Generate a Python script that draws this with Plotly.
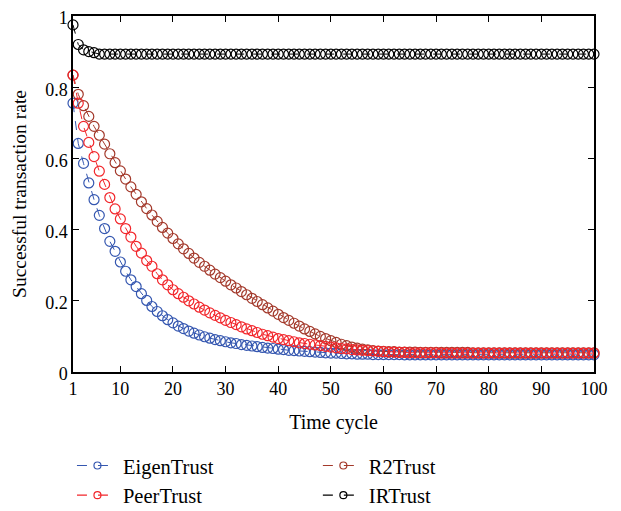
import plotly.graph_objects as go

cycles = list(range(1, 101))

eigen = [0.755, 0.642, 0.586, 0.531, 0.484, 0.440, 0.403, 0.367, 0.339, 0.309,
         0.283, 0.259, 0.240, 0.220, 0.201, 0.184, 0.170, 0.158, 0.147, 0.138,
         0.129, 0.122, 0.115, 0.109, 0.104, 0.099, 0.095, 0.091, 0.088, 0.085,
         0.082, 0.080, 0.077, 0.075, 0.073, 0.071, 0.069, 0.067, 0.066, 0.064,
         0.063, 0.061, 0.060, 0.059, 0.058, 0.057, 0.056, 0.055, 0.054, 0.053,
         0.053, 0.052, 0.051, 0.051, 0.050, 0.050, 0.050, 0.049, 0.049, 0.049,
         0.049, 0.049, 0.049, 0.048, 0.048, 0.048, 0.048, 0.048, 0.048, 0.048,
         0.048, 0.048, 0.048, 0.048, 0.048, 0.048, 0.048, 0.048, 0.048, 0.048,
         0.048, 0.048, 0.048, 0.048, 0.048, 0.048, 0.048, 0.048, 0.048, 0.048,
         0.048, 0.048, 0.048, 0.048, 0.048, 0.048, 0.048, 0.048, 0.048, 0.048]

peer = [0.834, 0.755, 0.690, 0.645, 0.605, 0.564, 0.527, 0.490, 0.458, 0.430,
        0.403, 0.379, 0.353, 0.334, 0.313, 0.297, 0.276, 0.259, 0.245, 0.231,
        0.220, 0.210, 0.200, 0.191, 0.182, 0.174, 0.166, 0.159, 0.152, 0.145,
        0.139, 0.133, 0.127, 0.121, 0.116, 0.111, 0.106, 0.102, 0.098, 0.094,
        0.091, 0.088, 0.085, 0.082, 0.080, 0.078, 0.076, 0.074, 0.072, 0.070,
        0.068, 0.066, 0.065, 0.063, 0.062, 0.061, 0.060, 0.059, 0.058, 0.057,
        0.056, 0.056, 0.055, 0.055, 0.054, 0.054, 0.054, 0.054, 0.054, 0.054,
        0.053, 0.053, 0.053, 0.053, 0.053, 0.053, 0.053, 0.053, 0.053, 0.053,
        0.053, 0.053, 0.053, 0.053, 0.053, 0.053, 0.053, 0.053, 0.053, 0.053,
        0.053, 0.053, 0.053, 0.053, 0.053, 0.053, 0.053, 0.053, 0.053, 0.053]

r2 = [0.834, 0.780, 0.748, 0.718, 0.690, 0.665, 0.640, 0.613, 0.588, 0.565,
      0.542, 0.520, 0.499, 0.478, 0.459, 0.441, 0.423, 0.406, 0.390, 0.375,
      0.360, 0.346, 0.333, 0.320, 0.308, 0.297, 0.286, 0.275, 0.265, 0.255,
      0.245, 0.236, 0.226, 0.217, 0.207, 0.198, 0.189, 0.180, 0.171, 0.162,
      0.153, 0.145, 0.137, 0.129, 0.121, 0.114, 0.107, 0.100, 0.094, 0.088,
      0.083, 0.078, 0.074, 0.070, 0.067, 0.064, 0.062, 0.060, 0.059, 0.058,
      0.057, 0.057, 0.056, 0.056, 0.056, 0.056, 0.055, 0.055, 0.055, 0.055,
      0.055, 0.055, 0.055, 0.055, 0.055, 0.055, 0.054, 0.054, 0.054, 0.054,
      0.054, 0.054, 0.054, 0.054, 0.054, 0.054, 0.054, 0.054, 0.054, 0.054,
      0.054, 0.054, 0.054, 0.054, 0.054, 0.054, 0.054, 0.054, 0.054, 0.054]

ir = [0.975, 0.920, 0.905, 0.900, 0.897] + [0.893] * 95

x_ticks = [1, 10, 20, 30, 40, 50, 60, 70, 80, 90, 100]
y_ticks = [0, 0.2, 0.4, 0.6, 0.8, 1]
y_labels = ["0", "0.2", "0.4", "0.6", "0.8", "1"]

FONT = "Liberation Serif"

series = [
    ("EigenTrust", eigen, "#3557b0", "legend"),
    ("R2Trust", r2, "#a3392b", "legend2"),
    ("PeerTrust", peer, "#f2262b", "legend"),
    ("IRTrust", ir, "#000000", "legend2"),
]

fig = go.Figure()
for name, vals, color, leg in series:
    fig.add_trace(go.Scatter(
        x=cycles, y=vals, name=name, mode="lines+markers",
        line=dict(color=color, width=1, dash="dash"),
        marker=dict(symbol="circle-open", size=10, color=color,
                    line=dict(width=1.2, color=color)),
        cliponaxis=False, showlegend=False,
    ))
# legend entries with smaller symbols
for name, vals, color, leg in series:
    fig.add_trace(go.Scatter(
        x=[None], y=[None], name=name, mode="lines+markers",
        line=dict(color=color, width=1.2, dash="10px,11px"),
        marker=dict(symbol="circle-open", size=7, color=color,
                    line=dict(width=1.2, color=color)),
        legend=leg, legendgroup=name, showlegend=True,
    ))

axis_common = dict(
    showgrid=False, zeroline=False, showline=True, linecolor="black",
    linewidth=1.5, mirror="ticks", ticks="inside", ticklen=6,
    tickcolor="black", tickwidth=1,
    tickfont=dict(family=FONT, size=18, color="black"),
    automargin=False, ticklabeloverflow="allow",
)

# page body has an 8px margin: figure occupies 8..621 x 8..511
fig.update_layout(
    width=613, height=503,
    margin=dict(l=65, r=27, t=8, b=139, autoexpand=False),
    paper_bgcolor="white", plot_bgcolor="white",
    font=dict(family=FONT, size=18, color="black"),
    xaxis=dict(range=[1, 100], tickvals=x_ticks,
               title=dict(text="Time cycle", font=dict(family=FONT, size=20), standoff=17),
               **axis_common),
    yaxis=dict(range=[0, 1], tickvals=y_ticks, ticktext=y_labels, ticklabelshift=2,
               title=dict(text="Successful transaction rate", font=dict(family=FONT, size=19.5), standoff=13),
               **axis_common),
    legend=dict(x=-0.002, y=-0.207, xanchor="left", yanchor="top",
                font=dict(family=FONT, size=20.5), tracegroupgap=0, itemwidth=41,
                bgcolor="rgba(0,0,0,0)"),
    legend2=dict(x=0.47, y=-0.207, xanchor="left", yanchor="top",
                 font=dict(family=FONT, size=20.5), tracegroupgap=0, itemwidth=41,
                 bgcolor="rgba(0,0,0,0)"),
)

fig.write_html("out.html")
